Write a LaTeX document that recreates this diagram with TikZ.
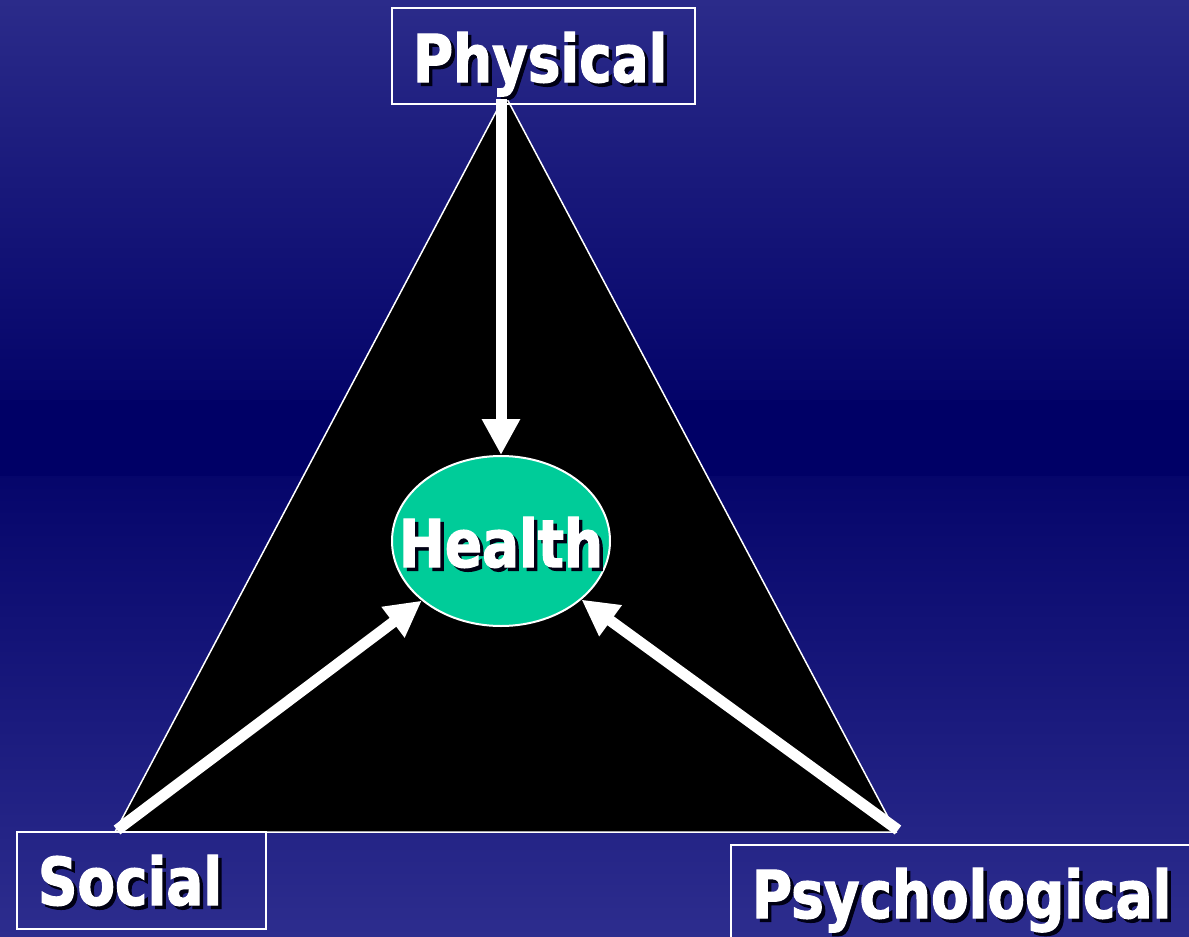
\documentclass[tikz,border=0pt]{standalone}
\usepackage{fontspec}
\usetikzlibrary{arrows.meta,shapes.geometric}
\newfontfamily\labelfont{DejaVu Sans}[FakeStretch=0.83,FakeBold=1.8]
\definecolor{navytop}{HTML}{2B2B8A}
\definecolor{navymid}{HTML}{000066}
\definecolor{navybot}{HTML}{2D2D8E}
\definecolor{healthgreen}{HTML}{00CC99}
\newcommand{\shtext}[1]{\leavevmode\rlap{\kern3.5pt\raisebox{-3.5pt}{\textcolor{black!80!navymid}{#1}}}#1}

\begin{document}
\begin{tikzpicture}[x=1pt,y=-1pt,
  bigfont/.style={font=\labelfont\bfseries\fontsize{66}{80}\selectfont},
  namebox/.style={bigfont,draw=white,line width=2pt,text=white,inner xsep=21pt,inner ysep=0pt,align=left},
  arrow/.style={draw=white,line width=11pt,-{Triangle[length=36pt,width=36pt]}}]
  \clip (0,0) rectangle (1189,937);
  \shade[top color=navytop,bottom color=navymid!92!navytop] (0,0) rectangle (1189,400);
  \fill[navymid] (0,400) rectangle (1189,476);
  \shade[top color=navymid!88!navybot,bottom color=navybot] (0,476) rectangle (1189,937);
  \coordinate (apex) at (505,95);
  \coordinate (lcorner) at (115,832);
  \coordinate (rcorner) at (896,832);
  \draw[white,line width=1.5pt,fill=black] (apex) -- (lcorner) -- (rcorner) -- cycle;
  \node[namebox,text width=261pt,text height=74pt,text depth=22pt] (phys) at (543.5,56) {\shtext{Physical}};
  \node[namebox,text width=207pt,text height=73pt,text depth=24pt] (soc) at (141.5,880.5) {\shtext{Social}};
  \node[namebox,text width=428pt,text height=73pt,text depth=30pt] (psych) at (966,896.5) {\shtext{Psychological}};
  \node[ellipse,draw=white,line width=2pt,fill=healthgreen,minimum width=218pt,minimum height=170pt,
    inner sep=0pt,text height=52pt,text depth=0pt,text=white,bigfont] (health) at (501,541)
    {\makebox[0pt]{\shtext{Health}}};
  \coordinate (pstart) at (501,99);
  \coordinate (sstart) at (117,830);
  \coordinate (qstart) at (898,830);
  \draw[arrow] (pstart) -- (health);
  \draw[arrow] (sstart) -- (health);
  \draw[arrow] (qstart) -- (health);
\end{tikzpicture}
\end{document}
